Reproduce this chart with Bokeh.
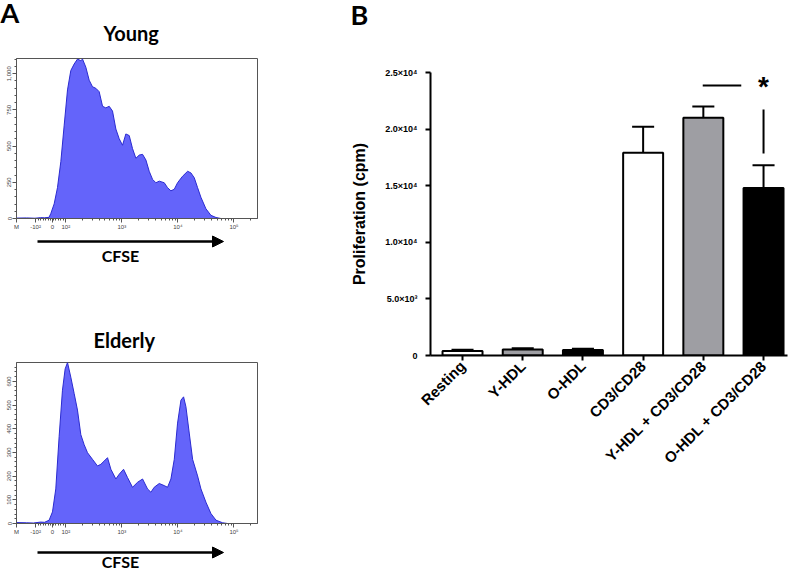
import math
from bokeh.plotting import figure
from bokeh.models import FixedTicker, Arrow, NormalHead, Range1d, Title
from bokeh.layouts import row, column
from bokeh.embed import file_html
from bokeh.resources import INLINE
from bokeh.core.properties import value

# ---------------- Panel A: CFSE histograms (x on display scale: 2 = 10^2, 3 = 10^3 ...)
young_x = [1.12, 1.30, 1.45, 1.55, 1.62, 1.70, 1.732, 1.792, 1.851, 1.911, 1.970, 2.030,
           2.089, 2.149, 2.208, 2.268, 2.298, 2.357, 2.417, 2.476, 2.536, 2.595, 2.655,
           2.714, 2.774, 2.833, 2.893, 2.952, 3.012, 3.071, 3.131, 3.190, 3.250, 3.310,
           3.369, 3.429, 3.488, 3.548, 3.607, 3.667, 3.756, 3.815, 3.875, 3.935, 3.994,
           4.083, 4.173, 4.232, 4.292, 4.351, 4.411, 4.500, 4.589, 4.679, 4.768, 5.42]
young_count = [3, 4, 2, 6, 5, 8, 34, 101, 213, 393, 640, 888,
               1022, 1067, 1101, 1090, 1101, 1045, 955, 910, 899, 876, 775,
               764, 775, 742, 618, 551, 506, 584, 573, 483, 416, 438,
               443, 404, 326, 270, 247, 258, 247, 213, 191, 202, 247,
               292, 326, 315, 281, 213, 146, 67, 22, 7, 0, 0]

elderly_x = [1.12, 1.30, 1.42, 1.55, 1.62, 1.702, 1.762, 1.821, 1.881, 1.940, 1.988, 2.030,
             2.089, 2.149, 2.208, 2.268, 2.327, 2.387, 2.476, 2.565, 2.625, 2.685, 2.744,
             2.804, 2.893, 2.952, 3.030, 3.101, 3.190, 3.280, 3.369, 3.458, 3.518, 3.577,
             3.667, 3.756, 3.815, 3.875, 3.935, 3.994, 4.054, 4.101, 4.143, 4.202, 4.262,
             4.351, 4.411, 4.500, 4.589, 4.679, 4.798, 4.887, 5.42]
elderly_count = [4, 3, 2, 6, 5, 14, 49, 146, 368, 563, 653, 680,
                 618, 549, 479, 375, 333, 299, 271, 243, 250, 264, 278,
                 229, 188, 208, 229, 194, 153, 174, 188, 146, 132, 153,
                 169, 160, 153, 188, 271, 424, 521, 535, 493, 382, 271,
                 201, 146, 90, 42, 14, 3, 0, 0]

cfse_ticks = [1.12, 1.46, 1.76, 2, 3, 4, 5]
cfse_tick_labels = ["M", "-10²", "0", "10²", "10³", "10⁴", "10⁵"]

young_ticks = [0, 250, 500, 750, 1000]
young_tick_labels = ["0", "250", "500", "750", "1,000"]
elderly_ticks = [0, 100, 200, 300, 400, 500, 600]
elderly_tick_labels = ["0", "100", "200", "300", "400", "500", "600"]

# ---------------- Panel B: proliferation
conditions = ["Resting", "Y-HDL", "O-HDL", "CD3/CD28", "Y-HDL + CD3/CD28", "O-HDL + CD3/CD28"]
prolif_mean = [400, 540, 480, 17900, 21000, 14800]
prolif_sem = [100, 110, 110, 2300, 1000, 2000]
bar_colors = ["white", "#9e9ea3", "black", "white", "#9e9ea3", "black"]
prolif_ticks = [0, 5000, 10000, 15000, 20000, 25000]
prolif_tick_labels = ["0", "5.0×10³", "1.0×10⁴", "1.5×10⁴", "2.0×10⁴", "2.5×10⁴"]
sig_h_x = [3.99, 4.63]
sig_h_y = 23850
sig_v_y = [17850, 21730]
sig_star_y = 23760

TITLE_FONT = "Lato"
AX_FONT = "Liberation Sans"
LEFT_W = 340
RIGHT_W = 452
FL, FR = 16, 257          # frame edges of the left column


def add_title(p, text, size, align, offset, standoff):
    p.add_layout(Title(text=text, text_font=TITLE_FONT, text_font_style="bold",
                       text_font_size=size, text_color="black", align=align,
                       offset=offset, standoff=standoff), "above")


def spacer_title(p, standoff):
    p.add_layout(Title(text=" ", text_font_size="2px", standoff=standoff), "above")


def minor_cfse():
    m = []
    v = 1.46
    while v < 2.0:
        m.append(round(v, 3))
        v += 0.045
    for k in (2, 3, 4):
        for mm in range(2, 10):
            m.append(k + math.log10(mm))
    m += [5 + math.log10(2), 5 + math.log10(3)]
    return m


def histo(xs, ys, ymax, yticks, ylabels, ystep, h, btop):
    p = figure(width=LEFT_W, height=h, output_backend="svg", toolbar_location=None,
               x_range=Range1d(1.12, 5.42), y_range=Range1d(0, ymax),
               min_border_left=FL, min_border_right=LEFT_W - FR, min_border_top=btop,
               min_border_bottom=h - btop - 163)
    p.varea(x=xs, y1=0, y2=ys, fill_color="#6464fa")
    p.line(xs, ys, line_color="#2b2bd0", line_width=1)
    p.grid.visible = False
    p.outline_line_color = "#555555"
    for ax in (p.xaxis[0], p.yaxis[0]):
        ax.axis_line_color = "#555555"
        ax.major_tick_line_color = "#555555"
        ax.minor_tick_line_color = "#555555"
        ax.major_tick_out = 4
        ax.major_tick_in = 0
        ax.minor_tick_out = 2
        ax.minor_tick_in = 0
        ax.major_label_text_font = AX_FONT
        ax.major_label_text_font_size = "6px"
        ax.major_label_text_color = "#444444"
        ax.major_label_standoff = 1
    p.xaxis.ticker = FixedTicker(ticks=cfse_ticks, minor_ticks=minor_cfse())
    p.xaxis.major_label_overrides = dict(zip(cfse_ticks, cfse_tick_labels))
    p.yaxis.ticker = FixedTicker(ticks=yticks, minor_ticks=list(range(0, int(ymax), ystep)))
    p.yaxis.major_label_overrides = dict(zip(yticks, ylabels))
    p.yaxis.major_label_orientation = "vertical"
    return p


def foot(top, bottom, arrow_y, label_y):
    """Plain area under a histogram (same frame edges); its ranges follow page pixels."""
    p = figure(width=LEFT_W, height=bottom - top, x_range=Range1d(FL, FR),
               y_range=Range1d(bottom, top), x_axis_type=None, y_axis_type=None,
               output_backend="svg", toolbar_location=None, min_border_left=FL,
               min_border_right=LEFT_W - FR, min_border_top=0, min_border_bottom=0)
    p.grid.visible = False
    p.outline_line_color = None
    p.add_layout(Arrow(x_start=37, y_start=arrow_y, x_end=223, y_end=arrow_y,
                       line_width=2.5, line_color="black",
                       end=NormalHead(size=11, fill_color="black", line_color="black")))
    p.text(x=[120], y=[label_y], text=["CFSE"], text_font=value(TITLE_FONT),
           text_font_style="bold", text_font_size="16px", text_align="center",
           text_baseline="middle", text_color="black")
    return p


# left column: young 0-232, foot 232-290, elderly 290-537, foot 537-572
young = histo(young_x, young_count, 1105, young_ticks, young_tick_labels, 50, 232, 55)
spacer_title(young, 14)
add_title(young, "Young", "20px", "left", 87, -8)
add_title(young, "A", "27px", "left", -16, -13)
footA = foot(232, 290, 241, 255)
elderly = histo(elderly_x, elderly_count, 680, elderly_ticks, elderly_tick_labels, 20, 247, 72)
add_title(elderly, "Elderly", "20px", "left", 77, 22)
footE = foot(537, 572, 552, 561)

# ---------------- Panel B figure
xs = list(range(len(conditions)))
b = figure(width=RIGHT_W, height=572, output_backend="svg", toolbar_location=None,
           x_range=Range1d(-0.532, 5.398), y_range=Range1d(0, 25000),
           min_border_left=90, min_border_right=5, min_border_top=72, min_border_bottom=217)
b.grid.visible = False
b.outline_line_color = None
spacer_title(b, 44)
add_title(b, "B", "27px", "left", -80, -12)
err_top = [m + s for m, s in zip(prolif_mean, prolif_sem)]
b.segment(x0=xs, y0=prolif_mean, x1=xs, y1=err_top, line_color="black", line_width=2)
b.segment(x0=[x - 0.183 for x in xs], y0=err_top, x1=[x + 0.183 for x in xs], y1=err_top,
          line_color="black", line_width=2)
b.vbar(x=xs, top=prolif_mean, width=0.664, fill_color=bar_colors, line_color="black", line_width=2)
b.segment(x0=[sig_h_x[0]], y0=[sig_h_y], x1=[sig_h_x[1]], y1=[sig_h_y], line_color="black", line_width=2)
b.segment(x0=[5], y0=[sig_v_y[0]], x1=[5], y1=[sig_v_y[1]], line_color="black", line_width=2)
b.text(x=[5], y=[sig_star_y], text=["*"], text_font=value(AX_FONT), text_font_style="bold",
       text_font_size="28px", text_align="center", text_baseline="middle", text_color="black")

for ax in (b.xaxis[0], b.yaxis[0]):
    ax.axis_line_width = 2
    ax.axis_line_color = "black"
    ax.major_tick_line_width = 2
    ax.major_tick_line_color = "black"
    ax.major_tick_out = 5
    ax.major_tick_in = 0
    ax.minor_tick_line_color = None
    ax.major_label_text_font = AX_FONT
    ax.major_label_text_font_style = "bold"
    ax.major_label_text_color = "black"

b.yaxis.ticker = FixedTicker(ticks=prolif_ticks)
b.yaxis.major_label_overrides = dict(zip(prolif_ticks, prolif_tick_labels))
b.yaxis.major_label_text_font_size = "9px"
b.yaxis.major_label_standoff = 8
b.yaxis.axis_label = "Proliferation (cpm)"
b.yaxis.axis_label_text_font = AX_FONT
b.yaxis.axis_label_text_font_style = "bold"
b.yaxis.axis_label_text_font_size = "16px"
b.yaxis.axis_label_text_color = "black"
b.yaxis.axis_label_standoff = 14

b.xaxis.ticker = FixedTicker(ticks=xs)
b.xaxis.major_label_overrides = dict(zip(xs, conditions))
b.xaxis.major_label_orientation = math.pi / 4
b.xaxis.major_label_text_font_size = "15px"
b.xaxis.major_label_standoff = 3

layout = row(column(young, footA, elderly, footE), b)
open("out.html", "w").write(file_html(layout, INLINE))
